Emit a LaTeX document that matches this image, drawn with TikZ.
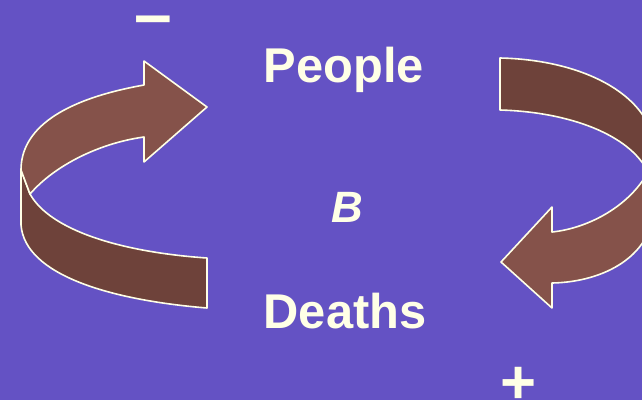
\documentclass[tikz,border=0pt]{standalone}
\usepackage{fontspec}
\setmainfont{Liberation Sans}
\usepackage{tikz}
\definecolor{slide}{RGB}{100,82,196}
\definecolor{cream}{RGB}{255,255,230}
\definecolor{brownlight}{RGB}{133,82,74}
\definecolor{browndark}{RGB}{110,66,58}

\begin{document}
\begin{tikzpicture}[x=1bp,y=-1bp,
  band/.style={draw=cream,line width=1.6bp,line join=round},
  word/.style={text=cream,font=\fontsize{49}{56}\selectfont\bfseries,inner sep=0pt,anchor=base}]
\fill[slide](0,0)rectangle(642,400);
\useasboundingbox(0,0)rectangle(642,400);
% left loop: tail band below, head band on top
\draw[band,fill=browndark](21,170)--(21,225) .. controls (25,275) and (110,300) .. (207,308)--(207,258)
  .. controls (120,252) and (50,230) .. (30,194)--cycle;
\draw[band,fill=brownlight](144,85) .. controls (60,100) and (21,130) .. (21,170)--(30,194)
  .. controls (55,165) and (100,143) .. (144,137)--(144,162)--(207,107)--(144,61)--cycle;
% right loop, runs off the slide
\begin{scope}
\clip(0,0)rectangle(642,400);
\draw[band,fill=browndark](500,58) .. controls (590,60) and (654,100) .. (654,150)--(654,205)--(648,172)
  .. controls (630,135) and (570,112) .. (500,110)--cycle;
\draw[band,fill=brownlight](648,172) .. controls (630,205) and (590,228) .. (552,232)--(552,207)--(501,262)
  --(552,308)--(552,283) .. controls (605,282) and (654,255) .. (654,205)--cycle;
\end{scope}
\node[word](people)at(344,82){People};
\node[word,font=\fontsize{44}{50}\selectfont\bfseries\itshape](loop)at(347,222){B};
\node[word](deaths)at(345,328){Deaths};
\node[word,font=\fontsize{68}{70}\selectfont\bfseries](minus)at(153,37){–};
\node[word,font=\fontsize{62}{70}\selectfont\bfseries](plus)at(518.5,403){+};
\end{tikzpicture}
\end{document}
